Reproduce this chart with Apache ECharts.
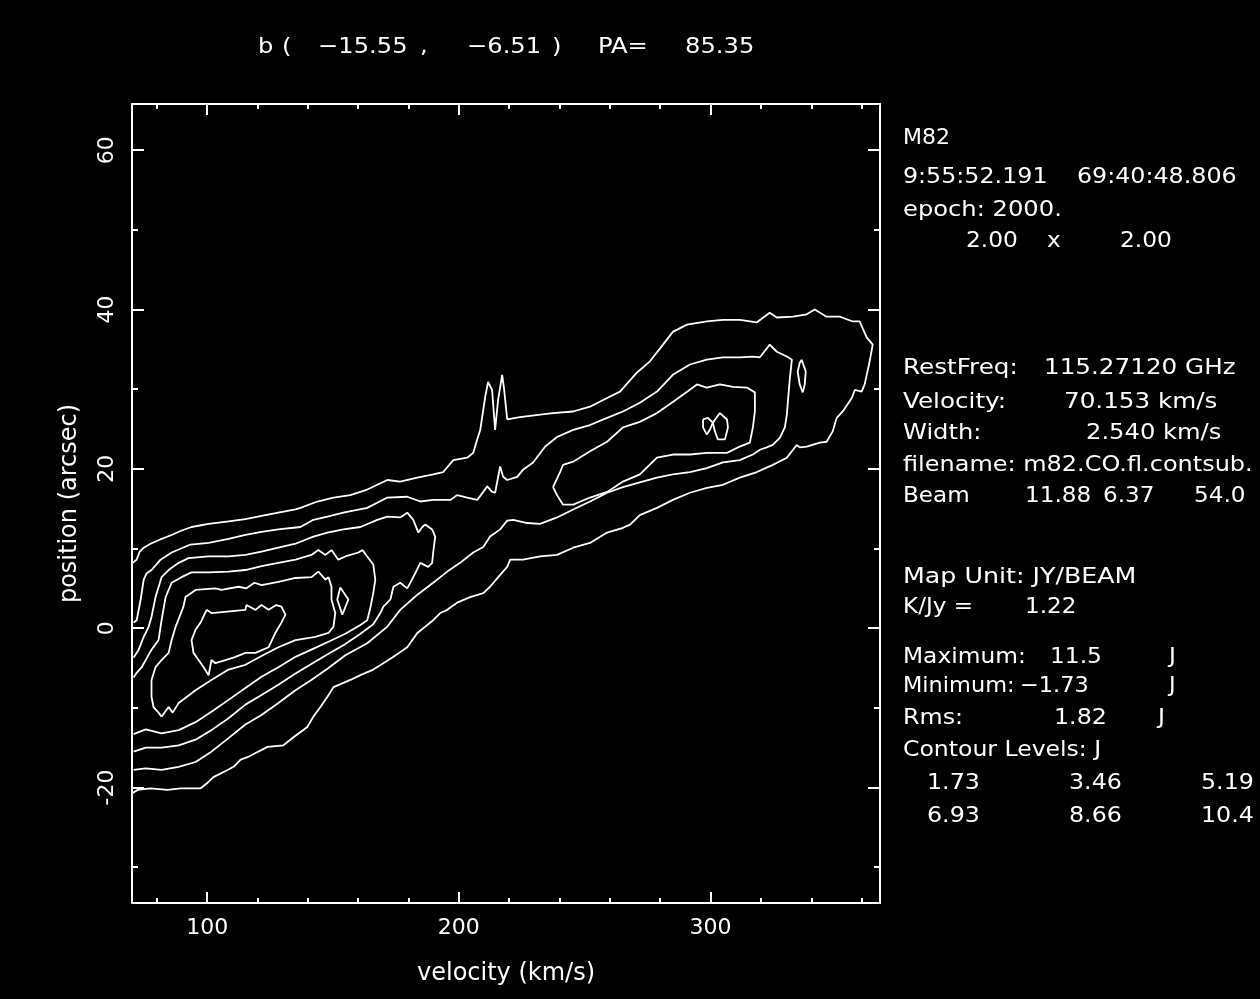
<!DOCTYPE html>
<html>
<head>
<meta charset="utf-8">
<script src="https://cdn.jsdelivr.net/npm/echarts@6/dist/echarts.min.js"></script>
<style>
  html, body { margin: 0; padding: 0; background: #000; }
  #chart { width: 1260px; height: 999px; }
</style>
</head>
<body>
<div id="chart"></div>
<script>
// M82 CO position–velocity cut: contours at multiples of 1.73 Jy/beam
const contourLevels = [1.73, 3.46, 5.19, 6.93, 8.66, 10.4];

// Axis ranges (velocity in km/s, position in arcsec) and tick values
const velocityRange = [70.153, 367.3];
const positionRange = [-34.5, 65.8];
const velocityMajor = [100, 200, 300];
const velocityMinor = [80, 120, 140, 160, 180, 220, 240, 260, 280, 320, 340, 360];
const positionMajor = [-20, 0, 20, 40, 60];
const positionMinor = [-30, -10, 10, 30, 50];

// Contour paths as [velocity, position] pairs
const level1Outer = [[70.4,8.2],[72.0,8.6],[73.2,9.6],[74.8,10.1],[77.5,10.6],[81.9,11.2],[85.9,11.7],[89.4,12.2],[93.8,12.7],[100.6,13.1],[108.5,13.4],[115.2,13.7],[121.6,14.1],[128.3,14.5],[135.1,14.9],[137.1,15.1],[143.8,15.9],[150.2,16.4],[156.9,16.7],[163.6,17.4],[171.6,18.6],[176.7,18.4],[183.5,18.9],[189.8,19.3],[193.8,19.6],[197.8,21.1],[203.3,21.4],[205.7,22.0],[207.3,23.7],[208.5,24.9],[210.5,29.1],[211.6,30.9],[213.2,29.9],[214.4,24.9],[215.6,28.7],[217.2,31.8],[218.0,29.9],[219.2,26.2],[224.3,26.5],[232.3,26.8],[237.4,27.0],[245.4,27.2],[252.1,27.8],[258.9,28.9],[264.0,29.7],[270.8,32.1],[275.9,33.5],[281.1,35.6],[285.0,37.2],[290.6,38.1],[298.5,38.5],[304.9,38.7],[311.6,38.7],[318.4,38.4],[323.5,39.6],[326.3,39.0],[332.7,39.1],[338.2,39.4],[341.4,40.0],[346.1,39.1],[351.3,39.1],[356.5,38.5],[359.2,38.5],[362.0,36.5],[364.4,35.6],[363.2,33.5],[361.2,30.6],[360.0,29.7],[357.3,29.9],[356.1,28.9],[352.5,27.2],[350.1,26.4],[348.5,24.7],[346.1,23.4],[343.4,23.3],[338.2,22.8],[335.4,22.7],[334.2,23.0],[330.3,21.4],[324.7,20.5],[318.4,19.6],[311.6,18.9],[304.9,18.0],[298.5,17.6],[291.8,17.0],[285.0,16.1],[278.7,15.1],[271.9,14.2],[268.0,13.0],[265.2,12.6],[258.9,12.0],[252.1,10.7],[245.4,10.1],[239.0,9.2],[232.3,9.0],[225.5,8.6],[220.4,8.6],[219.2,7.7],[216.4,6.7],[212.4,5.2],[209.7,4.4],[204.5,3.9],[199.3,3.2],[195.4,2.3],[192.6,1.9],[189.8,1.0],[183.5,-0.6],[179.5,-2.4],[174.0,-3.6],[170.0,-4.4],[166.0,-5.2],[160.9,-5.9],[156.9,-6.5],[150.2,-7.4],[147.8,-8.6],[145.0,-9.9],[142.2,-11.1],[139.8,-12.4],[134.3,-13.7],[130.3,-14.7],[124.0,-14.9],[116.0,-16.2],[113.3,-16.5],[110.5,-17.4],[108.1,-17.8],[102.5,-18.7],[100.2,-19.4],[97.4,-20.1],[89.4,-20.1],[84.3,-20.3],[77.5,-20.1],[72.4,-20.3],[70.4,-20.7]];

const level2Outer = [[70.8,0.7],[72.0,1.0],[73.6,3.6],[74.8,6.1],[76.0,6.9],[77.9,7.3],[81.5,8.6],[85.9,9.5],[93.4,10.5],[100.6,10.7],[108.5,11.2],[115.2,11.7],[121.6,12.1],[128.3,12.4],[137.1,12.7],[142.2,13.6],[147.8,14.0],[154.1,14.5],[163.6,15.1],[171.6,16.4],[179.5,16.5],[184.7,15.9],[189.8,16.1],[196.6,16.1],[199.3,16.7],[203.3,16.4],[207.3,16.1],[211.3,17.8],[213.2,17.1],[214.4,17.0],[216.4,20.3],[217.6,19.0],[219.2,18.6],[223.2,19.0],[225.5,19.9],[229.5,20.8],[234.3,22.8],[239.0,24.0],[245.4,24.9],[252.1,25.5],[258.9,26.4],[265.2,27.2],[271.9,28.3],[278.7,29.7],[285.0,31.8],[291.8,33.1],[298.5,33.7],[304.9,34.0],[311.6,34.0],[316.8,34.1],[319.6,34.0],[323.5,35.6],[326.3,34.7],[330.3,34.1],[332.3,33.7],[331.5,31.4],[330.7,28.4],[330.3,26.8],[329.5,25.2],[327.5,23.9],[324.7,23.0],[322.3,22.7],[319.6,22.4],[316.8,21.8],[311.6,21.1],[304.9,20.8],[298.5,20.1],[291.8,19.6],[285.0,19.3],[278.7,18.9],[271.9,18.3],[265.2,17.7],[258.9,17.0],[252.1,15.9],[245.4,14.9],[239.0,13.9],[232.3,13.1],[227.1,13.2],[221.6,13.6],[219.2,13.5],[216.4,12.4],[212.4,11.5],[209.7,10.2],[205.7,9.5],[200.5,8.2],[195.4,7.1],[189.8,5.7],[183.5,4.2],[176.7,2.3],[171.6,0.2],[163.6,-1.9],[154.9,-3.4],[148.2,-5.0],[141.4,-6.5],[135.1,-7.8],[128.3,-9.4],[121.6,-10.9],[115.2,-12.1],[108.5,-13.8],[101.7,-15.5],[95.4,-16.8],[88.7,-17.4],[81.9,-17.8],[75.6,-17.6],[70.8,-17.8]];

const level2Island = [[336.2,33.7],[337.8,32.2],[337.4,30.6],[336.6,29.6],[335.4,30.6],[334.6,32.2],[335.4,33.3],[336.2,33.7]];

const level3West = [[70.8,-3.7],[72.8,-2.7],[74.8,-1.1],[76.8,0.2],[77.9,1.4],[79.5,3.9],[81.9,6.4],[84.7,7.3],[88.7,8.2],[92.6,8.8],[100.6,9.0],[108.5,9.0],[115.2,9.2],[121.6,9.6],[128.3,10.1],[135.1,10.6],[142.2,11.5],[147.8,12.0],[154.1,12.4],[160.9,12.7],[167.6,13.6],[171.6,14.0],[176.7,13.9],[179.5,14.5],[181.9,13.6],[183.9,12.0],[185.5,12.7],[186.6,13.0],[189.4,12.4],[190.6,11.5],[189.8,9.5],[189.4,8.2],[187.8,7.7],[184.7,8.2],[182.7,6.9],[180.7,5.7],[179.5,5.0],[176.7,5.7],[174.0,5.2],[172.8,3.6],[170.0,2.7],[168.8,1.9],[166.0,0.5],[160.9,-0.7],[154.9,-2.0],[148.2,-3.2],[141.4,-4.5],[135.1,-5.7],[128.3,-7.1],[121.6,-8.4],[115.2,-9.6],[108.5,-11.3],[101.7,-12.8],[95.4,-14.0],[88.7,-14.7],[81.9,-15.0],[75.6,-15.0],[70.8,-15.5]];

const level3East = [[237.4,17.7],[240.2,19.6],[241.4,20.5],[245.4,20.9],[252.1,22.2],[258.9,23.4],[265.2,25.2],[271.9,25.9],[278.7,27.0],[285.0,28.4],[289.0,29.3],[294.6,30.6],[298.5,30.2],[303.7,30.6],[308.9,30.3],[314.4,30.2],[317.6,29.6],[317.6,27.2],[316.8,25.2],[315.6,23.3],[311.6,22.8],[306.5,22.0],[298.5,22.0],[291.8,21.8],[285.0,21.8],[278.7,21.4],[271.9,19.3],[265.2,18.4],[258.9,17.1],[252.1,16.4],[245.4,15.5],[241.4,15.5],[239.0,16.7],[237.4,17.7]];

const level4West = [[70.8,-6.2],[72.0,-5.6],[74.0,-4.9],[77.9,-2.7],[80.7,-1.5],[81.9,1.0],[83.5,3.9],[85.9,5.7],[89.8,6.4],[93.8,7.0],[100.6,7.0],[108.5,7.1],[115.2,7.3],[121.6,7.8],[128.3,8.2],[135.1,8.6],[141.4,9.2],[144.2,9.8],[147.0,9.2],[149.4,9.8],[152.1,8.6],[154.9,9.0],[160.1,9.5],[161.7,9.8],[163.6,9.0],[166.0,8.0],[166.8,6.1],[166.0,4.4],[164.8,2.5],[163.6,1.0],[160.9,0.4],[154.9,-0.7],[148.2,-1.7],[141.4,-2.7],[135.1,-3.6],[128.3,-4.9],[121.6,-6.1],[115.2,-7.5],[108.5,-9.0],[101.7,-10.5],[95.4,-11.8],[88.7,-12.8],[81.9,-13.2],[75.6,-12.7],[70.8,-13.3]];

const level4EastA = [[297.0,26.2],[298.9,26.4],[300.9,25.8],[299.7,24.9],[298.5,24.3],[297.0,25.2],[297.0,26.2]];
const level4EastB = [[300.9,25.8],[303.7,27.0],[306.5,26.2],[306.9,25.2],[305.7,23.7],[302.9,23.7],[301.7,24.7],[300.9,25.8]];

const level5West = [[81.9,-11.1],[84.7,-9.9],[86.3,-10.6],[88.7,-9.4],[95.4,-7.8],[101.7,-6.5],[108.5,-5.2],[115.2,-4.6],[121.6,-3.5],[128.3,-2.4],[135.1,-1.5],[143.0,-1.1],[148.2,-0.6],[150.2,0.2],[150.9,1.9],[149.4,3.6],[149.4,5.2],[148.2,6.4],[147.0,6.1],[144.2,7.1],[141.4,6.4],[135.1,6.3],[128.3,5.8],[121.6,5.4],[118.8,5.7],[115.6,5.0],[112.5,5.2],[105.7,4.8],[103.3,5.0],[95.4,4.8],[91.4,3.9],[90.6,2.7],[87.5,0.2],[85.9,-1.5],[84.7,-3.1],[81.9,-4.0],[79.5,-4.9],[77.9,-6.5],[77.9,-8.6],[78.7,-9.9],[80.7,-10.6],[81.9,-11.1]];

const level5Island = [[152.9,5.1],[156.1,3.6],[153.7,1.7],[151.7,3.6],[152.9,5.1]];

const level6Core = [[99.8,2.3],[101.7,1.9],[115.2,2.3],[115.6,2.9],[119.2,2.3],[121.6,2.9],[124.4,2.3],[127.5,2.9],[129.5,2.7],[131.1,1.7],[129.5,0.7],[127.1,-0.6],[124.4,-2.4],[119.2,-3.1],[115.2,-3.1],[111.3,-3.6],[107.3,-4.0],[103.3,-4.4],[101.7,-4.0],[100.6,-5.9],[98.6,-4.9],[96.6,-4.0],[94.6,-3.1],[93.8,-1.5],[95.4,-0.2],[97.4,0.7],[99.8,2.3]];

// Header line and side panel text
const headerTokens = ['b', '(', '\u221215.55', ',', '\u22126.51', ')', 'PA=', '85.35'];
const panelRows = [
  ['M82'],
  ['9:55:52.191', '69:40:48.806'],
  ['epoch: 2000.'],
  ['2.00', 'x', '2.00'],
  ['RestFreq:', '115.27120 GHz'],
  ['Velocity:', '70.153 km/s'],
  ['Width:', '2.540 km/s'],
  ['filename: m82.CO.fl.contsub.'],
  ['Beam', '11.88', '6.37', '54.0'],
  ['Map Unit: JY/BEAM'],
  ['K/Jy =', '1.22'],
  ['Maximum:', '11.5', 'J'],
  ['Minimum:', '\u22121.73', 'J'],
  ['Rms:', '1.82', 'J'],
  ['Contour Levels: J'],
  contourLevels.slice(0, 3).map(String),
  contourLevels.slice(3, 6).map(String)
];

// Layout of the text blocks (left edge and middle line of each token)
const headerX = [258, 282, 318, 420, 467, 552, 598, 685];
const headerY = 47;
const panelLayout = [
  { y: 138, x: [903] },
  { y: 177, x: [903, 1077] },
  { y: 210, x: [903] },
  { y: 241, x: [966, 1047, 1120] },
  { y: 368, x: [903, 1044] },
  { y: 402, x: [903, 1064] },
  { y: 433, x: [903, 1086] },
  { y: 465, x: [903] },
  { y: 496, x: [903, 1025, 1103, 1194] },
  { y: 577, x: [903] },
  { y: 607, x: [903, 1025] },
  { y: 657, x: [903, 1050, 1169] },
  { y: 686, x: [903, 1020, 1169] },
  { y: 718, x: [903, 1054, 1158] },
  { y: 750, x: [903] },
  { y: 783, x: [927, 1069, 1201] },
  { y: 816, x: [927, 1069, 1201] }
];
// horizontal stretch per panel row, bringing the glyph widths close to the plotting font
const panelStretch = [1.0, 1.08, 1.1, 1.06, 1.12, 1.12, 1.1, 1.09, 1.05, 1.15, 1.05, 1.06, 1.02, 1.08, 1.07, 1.08, 1.08];

const FONT = '"DejaVu Sans", "Liberation Sans", sans-serif';
const FG = '#ffffff';

function textEl(str, x, y, stretch) {
  return {
    type: 'text', x: x, y: y, scaleX: stretch, silent: true,
    style: { text: str, fill: FG, fontSize: 22, fontFamily: FONT, align: 'left', verticalAlign: 'middle' }
  };
}

const graphics = [];
headerTokens.forEach((t, i) => graphics.push(textEl(t, headerX[i], headerY, 1.1)));
panelRows.forEach((row, r) => {
  row.forEach((t, i) => graphics.push(textEl(t, panelLayout[r].x[i], panelLayout[r].y, panelStretch[r])));
});

function frameAxis(pos, range, ticks, tickLen, drawLine, labelOpt, extra) {
  return Object.assign({
    type: 'value', position: pos, min: range[0], max: range[1],
    axisLine: { show: drawLine, onZero: false, lineStyle: { color: FG, width: 2 } },
    axisTick: { show: true, inside: true, length: tickLen, customValues: ticks, lineStyle: { color: FG, width: 2 } },
    axisLabel: labelOpt || { show: false },
    splitLine: { show: false }
  }, extra || {});
}

const labelStyle = { color: FG, fontSize: 22, fontFamily: FONT };
const nameStyle = { color: FG, fontSize: 24, fontFamily: FONT };

const xAxes = [
  frameAxis('bottom', velocityRange, velocityMajor, 11, true,
    Object.assign({ show: true, customValues: velocityMajor, margin: 14 }, labelStyle),
    { name: 'velocity (km/s)', nameLocation: 'middle', nameGap: 59, nameTextStyle: nameStyle }),
  frameAxis('bottom', velocityRange, velocityMinor, 5, false),
  frameAxis('top', velocityRange, velocityMajor, 11, true),
  frameAxis('top', velocityRange, velocityMinor, 5, false)
];

const yAxes = [
  frameAxis('left', positionRange, positionMajor, 12, true,
    Object.assign({ show: true, customValues: positionMajor, rotate: 90, margin: 14 }, labelStyle),
    { name: 'position (arcsec)', nameLocation: 'middle', nameGap: 50, nameRotate: 90, nameTextStyle: nameStyle }),
  frameAxis('left', positionRange, positionMinor, 6, false),
  frameAxis('right', positionRange, positionMajor, 12, true),
  frameAxis('right', positionRange, positionMinor, 6, false)
];

const contourPaths = [
  level1Outer, level2Outer, level2Island, level3West, level3East,
  level4West, level4EastA, level4EastB, level5West, level5Island, level6Core
];

const series = contourPaths.map(path => ({
  type: 'line', data: path, xAxisIndex: 0, yAxisIndex: 0,
  symbol: 'none', showSymbol: false, silent: true, clip: true,
  lineStyle: { color: FG, width: 1.8 }
}));

const chart = echarts.init(document.getElementById('chart'), null, { renderer: 'canvas' });
chart.setOption({
  backgroundColor: '#000000',
  animation: false,
  grid: { left: 132, right: 380, top: 104, bottom: 96, containLabel: false },
  xAxis: xAxes,
  yAxis: yAxes,
  series: series,
  graphic: graphics
});
</script>
</body>
</html>
